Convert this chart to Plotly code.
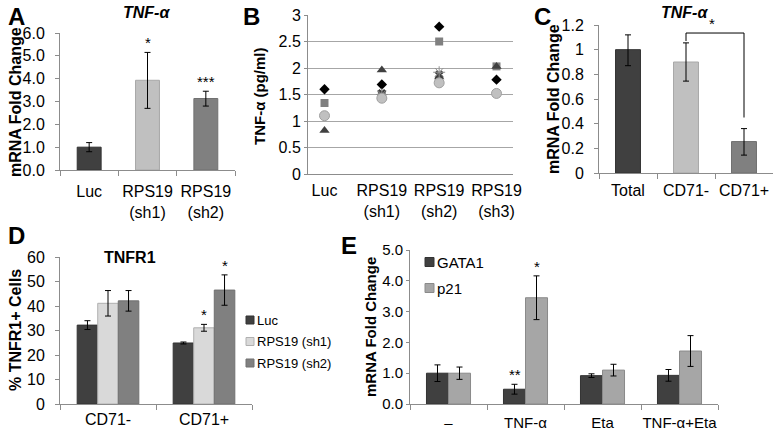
import plotly.graph_objects as go

W, H = 774, 430
FONT = "Liberation Sans, Arial, sans-serif"

# ---------------- data ----------------
# Panel A
a_cats = ["Luc", "RPS19<br>(sh1)", "RPS19<br>(sh2)"]
a_vals = [1.0, 3.93, 3.13]
a_err_hi = [0.20, 1.22, 0.32]
a_err_lo = [0.20, 1.23, 0.33]
a_stars = ["", "*", "***"]

# Panel B
b_cats = ["Luc", "RPS19<br>(sh1)", "RPS19<br>(sh2)", "RPS19<br>(sh3)"]
b_diamond = [1.60, 1.69, 2.78, 1.78]
b_square = [1.34, 1.50, 2.50, 2.03]
b_triangle = [0.82, 1.96, 1.83, 2.03]
b_cross = [None, 1.52, 1.87, None]
b_star = [None, 1.50, 1.92, None]
b_circle = [1.10, 1.43, 1.72, 1.52]

# Panel C
c_cats = ["Total", "CD71-", "CD71+"]
c_vals = [1.0, 0.90, 0.255]
c_err_hi = [0.12, 0.155, 0.105]
c_err_lo = [0.13, 0.155, 0.11]
c_bracket_y = 1.135
c_bracket_left_end = 1.07
c_bracket_right_end = 0.45

# Panel D
d_cats = ["CD71-", "CD71+"]
d_names = ["Luc", "RPS19 (sh1)", "RPS19 (sh2)"]
d_luc = [32.2, 24.9]
d_luc_err = [1.8, 0.4]
d_sh1 = [41.1, 31.1]
d_sh1_err = [5.2, 1.4]
d_sh2 = [42.1, 46.5]
d_sh2_err = [4.2, 6.2]
d_sh1_stars = ["", "*"]
d_sh2_stars = ["", "*"]

# Panel E
e_cats = ["–", "TNF-α", "Eta", "TNF-α+Eta"]
e_names = ["GATA1", "p21"]
e_gata1 = [1.0, 0.48, 0.92, 0.93]
e_gata1_err = [0.27, 0.16, 0.06, 0.19]
e_p21 = [1.0, 3.45, 1.10, 1.72]
e_p21_err = [0.20, 0.71, 0.19, 0.50]
e_gata1_stars = ["", "**", "", ""]
e_p21_stars = ["", "*", "", ""]

# ---------------- styles ----------------
DARK = "#404040"
LIGHT = "#c0c0c0"
LIGHTER = "#d9d9d9"
MID = "#808080"
P21 = "#a6a6a6"
AXIS = "#8c8c8c"


def px(x):
    return x / W


def py(y):
    return 1 - y / H


fig = go.Figure()


def err(hi, lo=None):
    return dict(type="data", array=hi, arrayminus=lo if lo is not None else hi,
                symmetric=False, color="black", thickness=1, width=3, visible=True)


# Panel A bars
a_colors = [DARK, LIGHT, MID]
a_borders = ["#333333", "#a8a8a8", "#707070"]
fig.add_trace(go.Bar(
    x=a_cats, y=a_vals, width=0.41,
    marker=dict(color=a_colors, line=dict(color=a_borders, width=1)),
    error_y=err(a_err_hi, a_err_lo), xaxis="x", yaxis="y", showlegend=False))

# Panel B scatter
b_specs = [
    (b_diamond, "diamond", "black", 8, None),
    (b_square, "square", MID, 8, None),
    (b_triangle, "triangle-up", DARK, 9, None),
    (b_cross, "x", DARK, 8, None),
    (b_star, "asterisk-open", "#909090", 10, "#909090"),
    (b_circle, "circle", LIGHT, 10, "#a0a0a0"),
]
for vals, sym, col, size, lc in b_specs:
    m = dict(symbol=sym, color=col, size=size)
    m["line"] = dict(color=lc, width=1) if lc else dict(width=0)
    fig.add_trace(go.Scatter(x=b_cats, y=vals, mode="markers", marker=m,
                             xaxis="x2", yaxis="y2", showlegend=False))

# Panel C bars
fig.add_trace(go.Bar(
    x=c_cats, y=c_vals, width=0.43,
    marker=dict(color=a_colors, line=dict(color=a_borders, width=1)),
    error_y=err(c_err_hi, c_err_lo), xaxis="x3", yaxis="y3", showlegend=False))

# Panel D bars
dw = 0.214
d_specs = [
    (d_luc, d_luc_err, DARK, "#333333", -1.5 * dw, d_names[0]),
    (d_sh1, d_sh1_err, LIGHTER, "#b0b0b0", -0.5 * dw, d_names[1]),
    (d_sh2, d_sh2_err, MID, "#707070", 0.5 * dw, d_names[2]),
]
for vals, e, col, bc, off, name in d_specs:
    fig.add_trace(go.Bar(x=d_cats, y=vals, width=dw, offset=off, name=name,
                         marker=dict(color=col, line=dict(color=bc, width=1)),
                         error_y=err(e), xaxis="x4", yaxis="y4", showlegend=False))

# Panel E bars
ew = 0.286
e_specs = [
    (e_gata1, e_gata1_err, DARK, "#333333", -ew, e_names[0]),
    (e_p21, e_p21_err, P21, "#8a8a8a", 0.0, e_names[1]),
]
for vals, e, col, bc, off, name in e_specs:
    fig.add_trace(go.Bar(x=e_cats, y=vals, width=ew, offset=off, name=name,
                         marker=dict(color=col, line=dict(color=bc, width=1)),
                         error_y=err(e), xaxis="x5", yaxis="y5", showlegend=False))


# ---------------- axes ----------------
def xax(x0, x1, anchor, ticks=True, size=16, standoff=4):
    return dict(domain=[px(x0), px(x1)], anchor=anchor, showline=True, linecolor=AXIS,
                linewidth=1, ticks="outside" if ticks else "", tickson="boundaries",
                ticklen=5, tickcolor=AXIS, showgrid=False, zeroline=False,
                tickfont=dict(family=FONT, size=size, color="black"), fixedrange=True,
                ticklabelstandoff=standoff, tickangle=0, automargin=False)


def yax(y_top, y_bot, anchor, rng, dtick, fmt=None, grid=False, size=16,
        ticklen=4, standoff=6):
    d = dict(domain=[py(y_bot), py(y_top)], anchor=anchor, range=rng, dtick=dtick,
             showline=True, linecolor=AXIS, linewidth=1, ticks="outside", ticklen=ticklen,
             tickcolor=AXIS, showgrid=grid, gridcolor="#a6a6a6", gridwidth=1,
             zeroline=False, tickfont=dict(family=FONT, size=size, color="black"),
             fixedrange=True, ticklabelstandoff=standoff, automargin=False)
    if fmt:
        d["tickformat"] = fmt
    return d


fig.update_layout(
    xaxis=xax(60, 235, "y", standoff=7),
    yaxis=yax(33, 170, "x", [0, 6], 1, ".1f", standoff=7),
    xaxis2=xax(308, 513, "y2", ticks=False, standoff=2),
    yaxis2=yax(15, 174, "x2", [0, 3], 0.5, grid=True, ticklen=3, standoff=0),
    xaxis3=xax(599, 773, "y3", standoff=3),
    yaxis3=yax(25, 173, "x3", [0, 1.2], 0.2, standoff=7),
    xaxis4=xax(60, 252, "y4", standoff=1),
    yaxis4=yax(257, 404, "x4", [0, 60], 10, standoff=7),
    xaxis5=xax(410, 718, "y5", size=15, standoff=5),
    yaxis5=yax(250, 404, "x5", [0, 5], 1, ".1f", size=15, ticklen=3, standoff=0),
)

# ---------------- annotations ----------------
ann = []


def label(text, x, y, size=24, bold=True, italic=False, angle=0, xanchor="center",
          yanchor="middle"):
    t = text
    if italic:
        t = "<i>" + t + "</i>"
    if bold:
        t = "<b>" + t + "</b>"
    ann.append(dict(text=t, x=px(x), y=py(y), xref="paper", yref="paper",
                    showarrow=False, textangle=angle, xanchor=xanchor, yanchor=yanchor,
                    font=dict(family=FONT, size=size, color="black")))


label("A", 16, 16)
label("B", 251, 16)
label("C", 542, 16)
label("D", 16, 235)
label("E", 349, 245)
label("TNF-α", 146, 12, size=16, italic=True)
label("TNF-α", 684, 12, size=16, italic=True)
label("TNFR1", 130, 257, size=16)
label("mRNA Fold Change", 15, 102, size=16, angle=-90)
label("TNF-α (pg/ml)", 259, 96, size=15, angle=-90)
label("mRNA Fold Change", 553, 99, size=16, angle=-90)
label("% TNFR1+ Cells", 15, 330, size=16, angle=-90)
label("mRNA Fold Change", 370, 327, size=15, angle=-90)


def stars(cats, vals, errs, marks, axis, xshift=0):
    for c, v, e, m in zip(cats, vals, errs, marks):
        if m:
            ann.append(dict(text=m, x=c, y=v + e, xref="x" + axis, yref="y" + axis,
                            showarrow=False, yanchor="bottom", yshift=-1, xshift=xshift,
                            font=dict(family=FONT, size=15, color="black")))


stars(a_cats, a_vals, a_err_hi, a_stars, "")
stars(d_cats, d_sh1, d_sh1_err, d_sh1_stars, "4", xshift=0)
stars(d_cats, d_sh2, d_sh2_err, d_sh2_stars, "4", xshift=round(dw * 96))
stars(e_cats, e_gata1, e_gata1_err, e_gata1_stars, "5", xshift=-round(ew * 77 / 2))
stars(e_cats, e_p21, e_p21_err, e_p21_stars, "5", xshift=round(ew * 77 / 2))

# bracket in C
ann.append(dict(text="*", x=1.45, y=c_bracket_y, xref="x3", yref="y3", showarrow=False,
                yanchor="bottom", yshift=-1, font=dict(family=FONT, size=15, color="black")))
shape_line = dict(color="black", width=1)
shapes = [
    dict(type="line", xref="x3", yref="y3", x0=1, x1=2, y0=c_bracket_y, y1=c_bracket_y,
         line=shape_line),
    dict(type="line", xref="x3", yref="y3", x0=1, x1=1, y0=c_bracket_y,
         y1=c_bracket_left_end, line=shape_line),
    dict(type="line", xref="x3", yref="y3", x0=2, x1=2, y0=c_bracket_y,
         y1=c_bracket_right_end, line=shape_line),
]


# manual legends (swatch + text) for D and E
def legend(names, colors, borders, x, y0, step, size, sw=8):
    for i, (n, c, b) in enumerate(zip(names, colors, borders)):
        yc = y0 + i * step
        shapes.append(dict(type="rect", xref="paper", yref="paper",
                           x0=px(x), x1=px(x + sw), y0=py(yc + sw / 2), y1=py(yc - sw / 2),
                           fillcolor=c, line=dict(color=b, width=1)))
        ann.append(dict(text=n, x=px(x + sw + 1), y=py(yc), xref="paper", yref="paper",
                        showarrow=False, xanchor="left", yanchor="middle",
                        font=dict(family=FONT, size=size, color="black")))


legend(d_names, [s[2] for s in d_specs], [s[3] for s in d_specs], 246, 320, 21.5, 13)
legend(e_names, [s[2] for s in e_specs], [s[3] for s in e_specs], 425, 262, 26, 15, sw=9)

fig.update_layout(
    width=W, height=H, margin=dict(l=0, r=0, t=0, b=0),
    paper_bgcolor="white", plot_bgcolor="white",
    barmode="overlay", annotations=ann, shapes=shapes, showlegend=False,
    font=dict(family=FONT, color="black"),
)

fig.write_html("out.html", config={"displayModeBar": False, "staticPlot": True},
               post_script="document.body.style.margin='0px';"
                           "document.body.style.padding='0px';"
                           "document.body.style.overflow='hidden';")
